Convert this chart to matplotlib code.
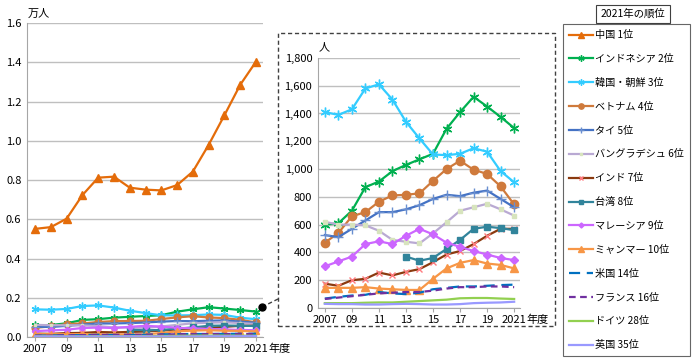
import numpy as np
import matplotlib
matplotlib.use('Agg')
import matplotlib.pyplot as plt
from matplotlib.lines import Line2D
from matplotlib.patches import Rectangle
from matplotlib.ticker import FuncFormatter

plt.rcParams['font.family'] = ['Noto Sans CJK JP', 'DejaVu Sans']

years = list(range(2007, 2022))
xtick_years = [2007, 2009, 2011, 2013, 2015, 2017, 2019, 2021]
xtick_labels = ['2007', '09', '11', '13', '15', '17', '19', '2021']

# values in persons (人)
china = [5510, 5600, 6030, 7230, 8120, 8170, 7610, 7510, 7470, 7740, 8430, 9790, 11300, 12850, 14030]
indonesia = [600, 610, 700, 870, 910, 985, 1030, 1070, 1110, 1290, 1410, 1520, 1450, 1375, 1295]
korea = [1410, 1390, 1430, 1580, 1610, 1500, 1340, 1220, 1105, 1100, 1110, 1150, 1125, 985, 905]
vietnam = [470, 540, 660, 690, 765, 810, 815, 825, 915, 1000, 1060, 995, 965, 875, 745]
thai = [525, 510, 570, 630, 690, 690, 710, 740, 785, 815, 805, 830, 845, 785, 725]
bangladesh = [620, 600, 600, 595, 556, 490, 477, 465, 537, 617, 700, 725, 750, 710, 665]
india = [175, 160, 200, 210, 255, 235, 260, 280, 330, 385, 410, 460, 520, 570, 570]
taiwan = [None, None, None, None, None, None, 370, 340, 360, 425, 490, 570, 585, 575, 560]
malaysia = [300, 335, 370, 460, 480, 460, 520, 570, 530, 470, 440, 410, 385, 360, 345]
myanmar = [145, 145, 145, 150, 140, 135, 130, 130, 210, 285, 325, 345, 320, 310, 285]
usa = [68, 80, 90, 95, 115, 105, 100, 110, 135, 145, 155, 155, 160, 165, 168]
france = [65, 75, 85, 95, 105, 110, 115, 115, 125, 140, 150, 150, 155, 155, 150]
germany = [35, 35, 35, 38, 40, 40, 45, 50, 55, 60, 70, 72, 72, 68, 65]
uk = [30, 28, 28, 25, 25, 28, 30, 28, 25, 25, 28, 35, 38, 40, 45]

labels = ['中国 1位', 'インドネシア 2位', '韓国・朝鮮 3位', 'ベトナム 4位', 'タイ 5位',
          'バングラデシュ 6位', 'インド 7位', '台湾 8位', 'マレーシア 9位', 'ミャンマー 10位',
          '米国 14位', 'フランス 16位', 'ドイツ 28位', '英国 35位']
series = [china, indonesia, korea, vietnam, thai, bangladesh, india, taiwan,
          malaysia, myanmar, usa, france, germany, uk]

star = (6, 2, 0)
styles = [
    dict(color='#E46C0A', marker='^', ms=6),
    dict(color='#00B050', marker=star, ms=7, mec='#00B050'),
    dict(color='#33CCFF', marker=star, ms=7, mec='#33CCFF'),
    dict(color='#CF7A3C', marker='o', ms=6),
    dict(color='#4472C4', marker='+', ms=7, mec='#6A8FD0'),
    dict(color='#B9A9D3', marker='s', ms=2.5, mfc='#D7E4BD', mec='#D7E4BD'),
    dict(color='#8B3A0F', marker='x', ms=5, mec='#FF7C80'),
    dict(color='#31849B', marker='s', ms=5),
    dict(color='#CC66FF', marker='D', ms=4),
    dict(color='#F79646', marker='^', ms=6),
    dict(color='#0070C0', ls=(0, (5, 3))),
    dict(color='#7030A0', ls=(0, (3, 2))),
    dict(color='#92D050'),
    dict(color='#9999FF'),
]

fig = plt.figure(figsize=(7, 3.63), dpi=100)

grid_c = '#BFBFBF'

def style_axes(ax):
    ax.grid(axis='y', color=grid_c, lw=1)
    ax.set_axisbelow(True)
    for s in ['top', 'right']:
        ax.spines[s].set_visible(False)
    for s in ['left', 'bottom']:
        ax.spines[s].set_color('#A6A6A6')
    ax.tick_params(axis='y', length=0, labelsize=8, pad=4)
    ax.tick_params(axis='x', length=3, color='#A6A6A6', labelsize=8, pad=2)
    ax.set_xticks(xtick_years)
    ax.set_xticklabels(xtick_labels)
    ax.annotate('年度', xy=(2021, 0), xycoords=('data', 'axes fraction'),
                xytext=(9, -5), textcoords='offset points', ha='left', va='top', fontsize=8)

# main chart
ax = fig.add_axes([0.0386, 0.0716, 0.337, 0.865])
handles = []
for vals, st, lab in zip(series, styles, labels):
    v = np.array([np.nan if x is None else x / 10000 for x in vals])
    kw = dict(st)
    if 'ms' in kw and vals is not china:
        kw['ms'] = kw['ms'] * 0.8
    h, = ax.plot(years, v, lw=1.6, label=lab, **kw)
    handles.append(h)
ax.set_xlim(2006.49, 2021.44)
ax.set_ylim(0, 1.6)
ax.set_yticks(np.arange(0, 1.61, 0.2))
ax.yaxis.set_major_formatter(FuncFormatter(lambda v, p: f'{v:.1f}'))
style_axes(ax)
fig.text(0.039, 0.962, '万人', fontsize=8, ha='left', va='center')

# inset chart
ax2 = fig.add_axes([0.454, 0.1515, 0.289, 0.689])
for vals, st in zip(series[1:], styles[1:]):
    v = np.array([np.nan if x is None else x for x in vals], dtype=float)
    ax2.plot(years, v, lw=1.6, **st)
ax2.set_xlim(2006.48, 2021.44)
ax2.set_ylim(0, 1800)
ax2.set_yticks(np.arange(0, 1801, 200))
ax2.yaxis.set_major_formatter(FuncFormatter(lambda v, p: f'{int(v):,}'))
style_axes(ax2)
fig.text(0.455, 0.871, '人', fontsize=8, ha='left', va='center')

# dashed box around inset
fig.patches.append(Rectangle((278 / 700, 1 - 326 / 363), 277 / 700, 293 / 363,
                             transform=fig.transFigure, fill=False, ec='#404040',
                             ls=(0, (3, 2)), lw=1))
fig.lines.append(Line2D([262 / 700, 278 / 700], [1 - 307 / 363, 1 - 299 / 363],
                        transform=fig.transFigure, color='#404040', ls=(0, (3, 2)), lw=1))
fig.lines.append(Line2D([262 / 700], [1 - 307 / 363], transform=fig.transFigure,
                        color='black', marker='o', ms=5))

# legend
leg = fig.legend(handles=handles, loc='upper left', bbox_to_anchor=(563 / 700, 1 - 24 / 363),
                 fontsize=7.3, frameon=True, fancybox=False, edgecolor='#404040',
                 handlelength=2.4, handletextpad=0.2, labelspacing=1.36,
                 borderpad=0.6, borderaxespad=0, markerscale=0.8)
leg.get_frame().set_linewidth(0.8)
fig.text(633 / 700, 1 - 14 / 363, '2021年の順位', fontsize=7.5, ha='center', va='center',
         bbox=dict(boxstyle='square,pad=0.4', fc='white', ec='#404040', lw=0.8))

fig.savefig('out.png', dpi=100)
